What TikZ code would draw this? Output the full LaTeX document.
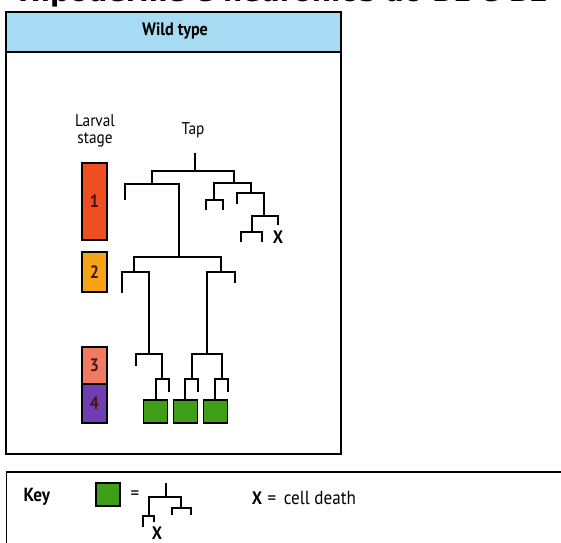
\documentclass[tikz,border=0pt]{standalone}
\usepackage{graphicx}
\usepackage{fontspec}
\setmainfont{PT Sans}[FakeStretch=0.9]
\newfontfamily\titlefont{DejaVu Sans}
\usetikzlibrary{positioning}

\definecolor{hdrblue}{RGB}{166,219,243}
\definecolor{stageone}{RGB}{238,78,32}
\definecolor{stagetwo}{RGB}{247,163,22}
\definecolor{stagethree}{RGB}{242,122,96}
\definecolor{stagefour}{RGB}{112,62,178}
\definecolor{cellgreen}{RGB}{62,158,24}
\definecolor{numtxt}{RGB}{70,20,20}

\begin{document}
\begin{tikzpicture}[x=1pt,y=-1pt,
    lin/.style={line width=1.6pt},
    stagebox/.style={draw,line width=1.1pt,minimum width=25pt,inner sep=0pt,
                     text=numtxt,font=\bfseries\fontsize{18}{18}\selectfont},
    cell/.style={draw,line width=1.1pt,fill=cellgreen,minimum width=24pt,
                 minimum height=23pt,inner sep=0pt},
    lbl/.style={font=\fontsize{17}{17}\selectfont,align=center,inner sep=1pt},
    xmark/.style={font=\bfseries\fontsize{18}{18}\selectfont}]
  \useasboundingbox (0,0) rectangle (561,542);

  % ---- title line, cut at the top edge ----
  \node[anchor=base west,inner sep=0pt] (title) at (18,1.5)
    {\resizebox{530pt}{!}{\titlefont\bfseries Hipoderme e neurônios do B1 e B2}};

  % ---- wild type panel ----
  \fill[hdrblue] (6,12) rectangle (341,52);
  \draw[line width=1.2pt] (6,12) rectangle (341,454);
  \draw[line width=1.2pt] (6,52) -- (341,52);
  \node[font=\bfseries\fontsize{18}{18}\selectfont] (wt) at (175,31) {Wild type};

  \node[lbl] (larval) at (95,131) {Larval\\stage};
  \node[lbl] (tap) at (193,130) {Tap};

  % stage bars
  \node[stagebox,fill=stageone,minimum height=77pt] (s1) at (94.5,201.5) {1};
  \node[stagebox,fill=stagetwo,minimum height=40pt] (s2) at (94.5,272) {2};
  \node[stagebox,fill=stagethree,minimum height=37pt] (s3) at (94.5,365.5) {3};
  \node[stagebox,fill=stagefour,minimum height=39pt] (s4) at (94.5,403.5) {4};

  % ---- lineage ----
  \draw[lin] (195,153) -- (195,171);
  \draw[lin] (152,184) -- (152,171) -- (234,171) -- (234,184);
  % left half
  \draw[lin] (125,200) -- (125,184) -- (179,184) -- (179,257);
  \draw[lin] (134,272) -- (134,257) -- (221,257) -- (221,272);
  \draw[lin] (122,293) -- (122,272) -- (149,272) -- (149,354);
  \draw[lin] (207,354) -- (207,272) -- (235,272) -- (235,283);
  \draw[lin] (136,366) -- (136,354) -- (162,354) -- (162,379);
  \draw[lin] (192,379) -- (192,354) -- (222,354) -- (222,379);
  \foreach \c in {156,185,215} {
    \draw[lin] (\c,400) -- (\c,379) -- (\c+13,379) -- (\c+13,392);
  }
  \node[cell] (c1) at (155.5,411.5) {};
  \node[cell,right=5pt of c1] (c2) {};
  \node[cell,right=5pt of c2] (c3) {};
  % right half
  \draw[lin] (214,200) -- (214,183) -- (251,183) -- (251,193);
  \draw[lin] (206,210) -- (206,200) -- (223,200) -- (223,210);
  \draw[lin] (237,204) -- (237,193) -- (264,193) -- (264,216);
  \draw[lin] (252,232) -- (252,216) -- (278,216) -- (278,225);
  \draw[lin] (241,242) -- (241,232) -- (262,232) -- (262,242);
  \node[xmark] (death) at (278,237) {X};

  % ---- key ----
  \draw[line width=1.2pt] (6.5,600) -- (6.5,472) -- (600,472);
  \node[font=\bfseries\fontsize{19}{19}\selectfont,anchor=west] (key) at (20,497) {Key};
  \node[cell] (kc) at (108,494.5) {};
  \node[font=\fontsize{19}{19}\selectfont] (keq) at (135,495) {=};
  \draw[lin] (166,483) -- (166,497);
  \draw[lin] (149,516) -- (149,497) -- (181,497) -- (181,508);
  \draw[lin] (143,527) -- (143,516) -- (154,516) -- (154,522);
  \draw[lin] (172,515) -- (172,508) -- (191,508) -- (191,515);
  \node[xmark] (kx) at (157,533) {X};
  \node[xmark] (kx2) at (257,498) {X};
  \node[font=\fontsize{19}{19}\selectfont,anchor=west] (kdeath) at (264,497.5) {=\,\ cell death};
\end{tikzpicture}
\end{document}
